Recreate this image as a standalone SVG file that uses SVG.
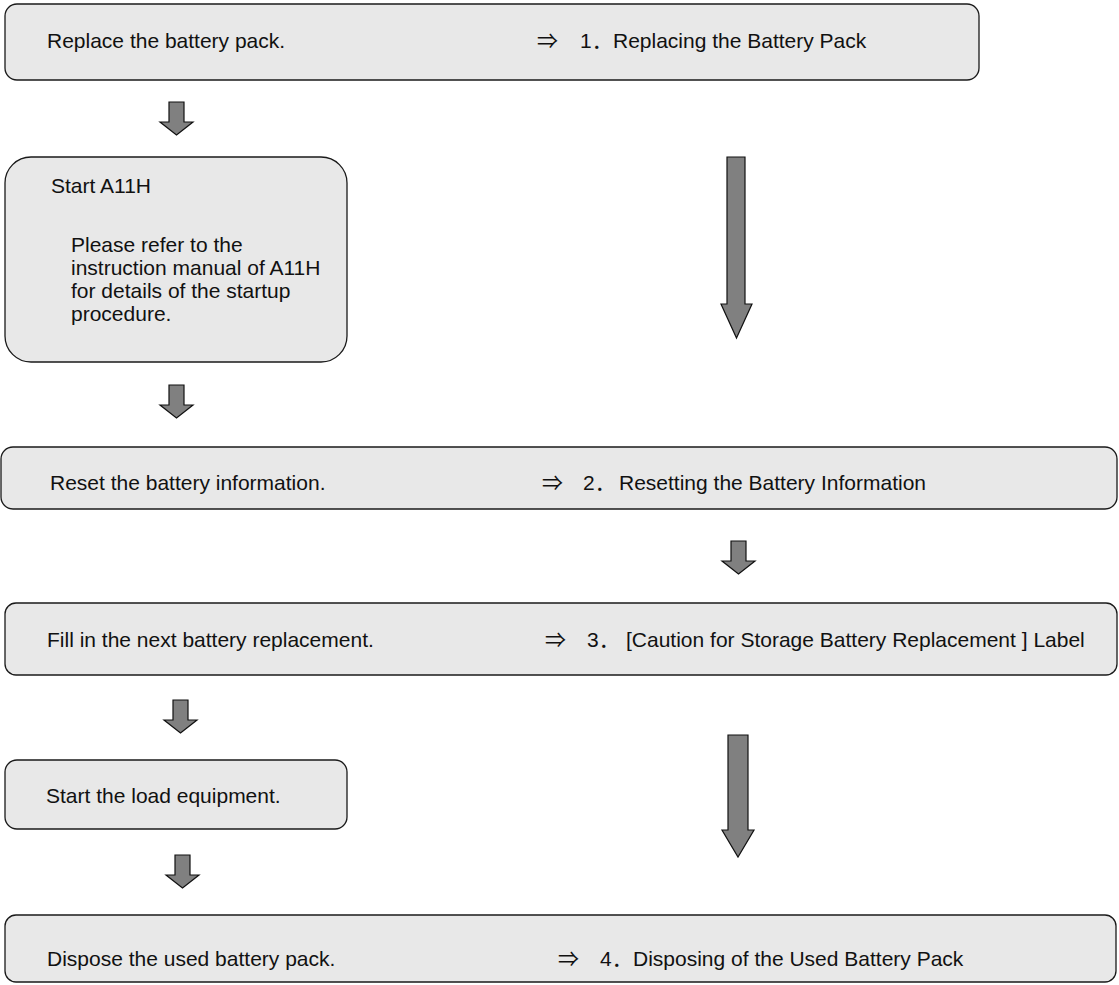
<svg xmlns="http://www.w3.org/2000/svg" width="1119" height="985" viewBox="0 0 1119 985">
<style>
.box{fill:#e8e8e8;stroke:#1a1a1a;stroke-width:1.3}
.t{font-family:"Liberation Sans","Noto Sans CJK JP",Arial,sans-serif;font-size:21px;fill:#111}
.arr{fill:#808080;stroke:#111;stroke-width:1.2;stroke-linejoin:miter}
</style>
<rect width="1119" height="985" fill="#fff"/>
<g id="n1">
<rect class="box" x="5" y="4" width="974" height="76" rx="12"/>
<text class="t" x="47" y="48">Replace the battery pack.</text>
<text class="t" y="48"><tspan x="537">⇒</tspan><tspan x="580">1．</tspan><tspan x="613">Replacing the Battery Pack</tspan></text>
</g>
<g id="n2">
<rect class="box" x="5" y="157" width="342" height="205" rx="26"/>
<text class="t" x="51" y="193">Start A11H</text>
<text class="t" x="71" y="252">Please refer to the</text>
<text class="t" x="71" y="275">instruction manual of A11H</text>
<text class="t" x="71" y="298">for details of the startup</text>
<text class="t" x="71" y="321">procedure.</text>
</g>
<g id="n3">
<rect class="box" x="1" y="447" width="1116" height="62" rx="12"/>
<text class="t" x="50" y="490">Reset the battery information.</text>
<text class="t" y="490"><tspan x="542">⇒</tspan><tspan x="583">2．</tspan><tspan x="619">Resetting the Battery Information</tspan></text>
</g>
<g id="n4">
<rect class="box" x="5" y="603" width="1112" height="72" rx="11"/>
<text class="t" x="47" y="647">Fill in the next battery replacement.</text>
<text class="t" y="647"><tspan x="545">⇒</tspan><tspan x="587">3．</tspan><tspan x="626">[Caution for Storage Battery Replacement ] Label</tspan></text>
</g>
<g id="n5">
<rect class="box" x="5" y="760" width="342" height="69" rx="12"/>
<text class="t" x="46" y="803">Start the load equipment.</text>
</g>
<g id="n6">
<rect class="box" x="5" y="915" width="1111" height="67" rx="11"/>
<text class="t" x="47" y="966">Dispose the used battery pack.</text>
<text class="t" y="966"><tspan x="558">⇒</tspan><tspan x="600">4．</tspan><tspan x="633">Disposing of the Used Battery Pack</tspan></text>
</g>
<g id="connectors">
<path class="arr" d="M169,102 H184 V122 H193 L176.5,135 L160,122 H169 Z"/>
<path class="arr" d="M169,385 H184 V405 H193 L176.5,418 L160,405 H169 Z"/>
<path class="arr" d="M731,541 H746 V561 H755 L738.5,574 L722,561 H731 Z"/>
<path class="arr" d="M173,700 H188 V720 H197 L180.5,733 L164,720 H173 Z"/>
<path class="arr" d="M175,855 H190 V875 H199 L182.5,888 L166,875 H175 Z"/>
<path class="arr" d="M727,157 H745 V304 H752 L736.5,338 L721,304 H727 Z"/>
<path class="arr" d="M728,735 H748 V830 H754 L738,857 L722,830 H728 Z"/>
</g>
</svg>
